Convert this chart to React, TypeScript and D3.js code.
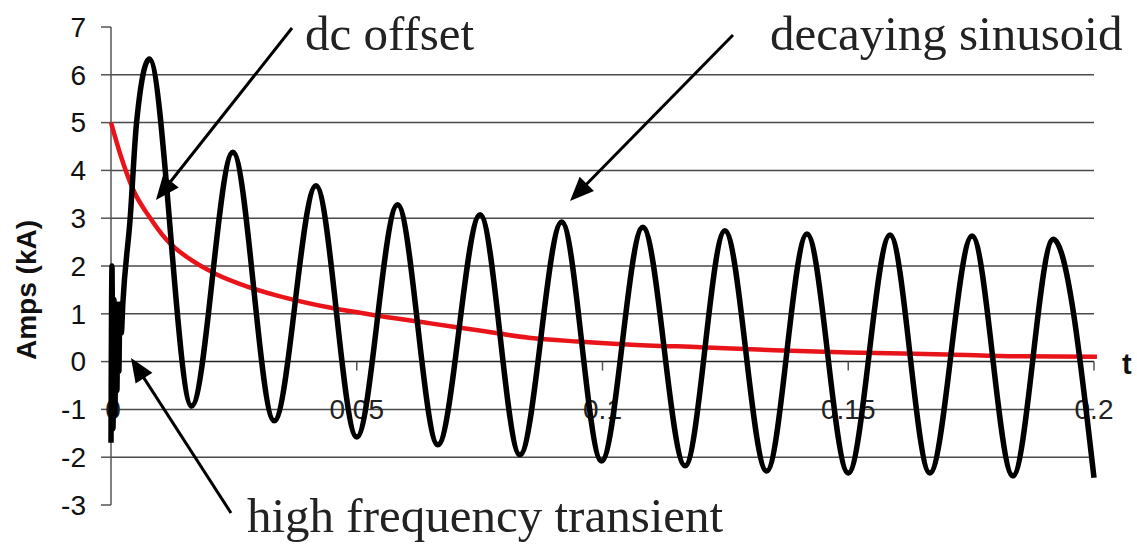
import * as d3 from "d3";

// total fault current (kA) - peaks/troughs, plus the hf burst at t=0
const waveT = [
  0, 0.0002, 0.0004, 0.0006, 0.0008, 0.001, 0.0012, 0.0014, 0.0016, 0.0018, 0.0021,
  0.0024, 0.0039, 0.0052, 0.0078,
  0.0164, 0.0248, 0.0332, 0.0417, 0.05, 0.0583, 0.0665, 0.0751, 0.0832, 0.0917,
  0.0998, 0.1082, 0.1168, 0.1249, 0.1334, 0.1416, 0.15, 0.1585, 0.1666, 0.1752,
  0.1835, 0.1917, 0.2,
];
const waveI = [
  -1.7, 2.0, -1.4, 1.3, -1.1, 1.2, -0.6, 1.2, -0.2, 1.2, 0.6,
  1.2, 3.0, 5.0, 6.33,
  -0.93, 4.38, -1.24, 3.68, -1.58, 3.28, -1.74, 3.07, -1.95, 2.92,
  -2.08, 2.81, -2.18, 2.74, -2.29, 2.67, -2.33, 2.65, -2.33, 2.63,
  -2.39, 2.56, -2.43,
];

// dc offset (kA)
const dcT = [0, 0.002, 0.0045, 0.008, 0.0113, 0.0167, 0.021, 0.0283, 0.035, 0.045, 0.055, 0.065, 0.075, 0.085, 0.095, 0.105, 0.12, 0.135, 0.15, 0.17, 0.185, 0.2006];
const dcI = [5.0, 4.3, 3.6, 3.0, 2.55, 2.1, 1.85, 1.55, 1.35, 1.12, 0.95, 0.8, 0.65, 0.5, 0.42, 0.36, 0.3, 0.24, 0.19, 0.15, 0.11, 0.1];

const xTicks = [0, 0.05, 0.1, 0.15, 0.2];
const xTickLabels = ["0", "0.05", "0.1", "0.15", "0.2"];
const yTicks = [-3, -2, -1, 0, 1, 2, 3, 4, 5, 6, 7];
const gridValues = [-2, -1, 1, 2, 3, 4, 5, 6];

const W = 1137;
const H = 546;

const sans = "'Liberation Sans', Arial, sans-serif";
const serif = "'Liberation Serif', 'Times New Roman', serif";

// arrow head polygon from tail to tip
const arrowHead = (x1: number, y1: number, x2: number, y2: number) => {
  const a = Math.atan2(y2 - y1, x2 - x1);
  const len = 24, half = 10;
  const bx = x2 - len * Math.cos(a);
  const by = y2 - len * Math.sin(a);
  const px = -Math.sin(a) * half, py = Math.cos(a) * half;
  return `${x2},${y2} ${bx + px},${by + py} ${bx - px},${by - py}`;
};

const arrows = [
  { x1: 292, y1: 28, x2: 156, y2: 200 },
  { x1: 733, y1: 35, x2: 570, y2: 201 },
  { x1: 231, y1: 513, x2: 131, y2: 358 },
];

export default function App() {
  const x = d3.scaleLinear().domain([0, 0.2]).range([111, 1094]);
  const y = d3.scaleLinear().domain([-3, 7]).range([505, 27]);

  const wave = d3
    .line<number>()
    .x((_, i) => x(waveT[i]))
    .y((d) => y(d))
    .curve(d3.curveMonotoneX);

  const dc = d3
    .line<number>()
    .x((_, i) => x(dcT[i]))
    .y((d) => y(d))
    .curve(d3.curveMonotoneX);

  return (
    <svg width={W} height={H} style={{ position: "absolute", left: 0, top: 0, background: "#fff" }}>
      {/* grid */}
      {gridValues.map((v) => (
        <line key={v} x1={x(0)} x2={x(0.2)} y1={y(v)} y2={y(v)} stroke="#4a4a4a" strokeWidth={1.5} />
      ))}
      {/* y axis */}
      <line x1={x(0)} x2={x(0)} y1={y(7)} y2={y(-3)} stroke="#555" strokeWidth={1.5} />
      {yTicks.map((v) => (
        <g key={v}>
          <line x1={x(0) - 10} x2={x(0)} y1={y(v)} y2={y(v)} stroke="#555" strokeWidth={1.5} />
          <text x={86} y={y(v)} dy="0.35em" textAnchor="end" fontFamily={sans} fontSize={28} fill="#111">
            {v}
          </text>
        </g>
      ))}
      {/* x axis */}
      <line x1={x(0)} x2={x(0.2)} y1={y(0)} y2={y(0)} stroke="#222" strokeWidth={1.5} />
      {xTicks.map((v, i) => (
        <g key={v}>
          <line x1={x(v)} x2={x(v)} y1={y(0)} y2={y(0) + 9} stroke="#555" strokeWidth={1.5} />
          <text x={x(v) + (i === 0 ? 2 : 0)} y={y(-1)} dy="0.35em" textAnchor="middle" fontFamily={sans} fontSize={28} fill="#222">
            {xTickLabels[i]}
          </text>
        </g>
      ))}
      <text x={1122} y={374} fontFamily={sans} fontWeight="bold" fontSize={29} fill="#111">
        t
      </text>
      <text
        transform={`translate(36, 290) rotate(-90)`}
        textAnchor="middle"
        fontFamily={sans}
        fontWeight="bold"
        fontSize={28}
        fill="#111"
      >
        Amps (kA)
      </text>

      {/* series */}
      <path d={dc(dcI) || ""} fill="none" stroke="#e8141a" strokeWidth={4.5} />
      <path d={wave(waveI) || ""} fill="none" stroke="#000" strokeWidth={5.5} strokeLinejoin="round" />

      {/* annotations */}
      {arrows.map((a, i) => (
        <g key={i}>
          <line x1={a.x1} y1={a.y1} x2={a.x2 - (a.x2 - a.x1) * 0.08} y2={a.y2 - (a.y2 - a.y1) * 0.08} stroke="#000" strokeWidth={3} />
          <polygon points={arrowHead(a.x1, a.y1, a.x2, a.y2)} fill="#000" />
        </g>
      ))}
      <text x={305} y={50} fontFamily={serif} fontSize={49} fill="#222">
        dc offset
      </text>
      <text x={770} y={50} fontFamily={serif} fontSize={49} fill="#222">
        decaying sinusoid
      </text>
      <text x={247} y={532} fontFamily={serif} fontSize={49} fill="#222">
        high frequency transient
      </text>
    </svg>
  );
}
